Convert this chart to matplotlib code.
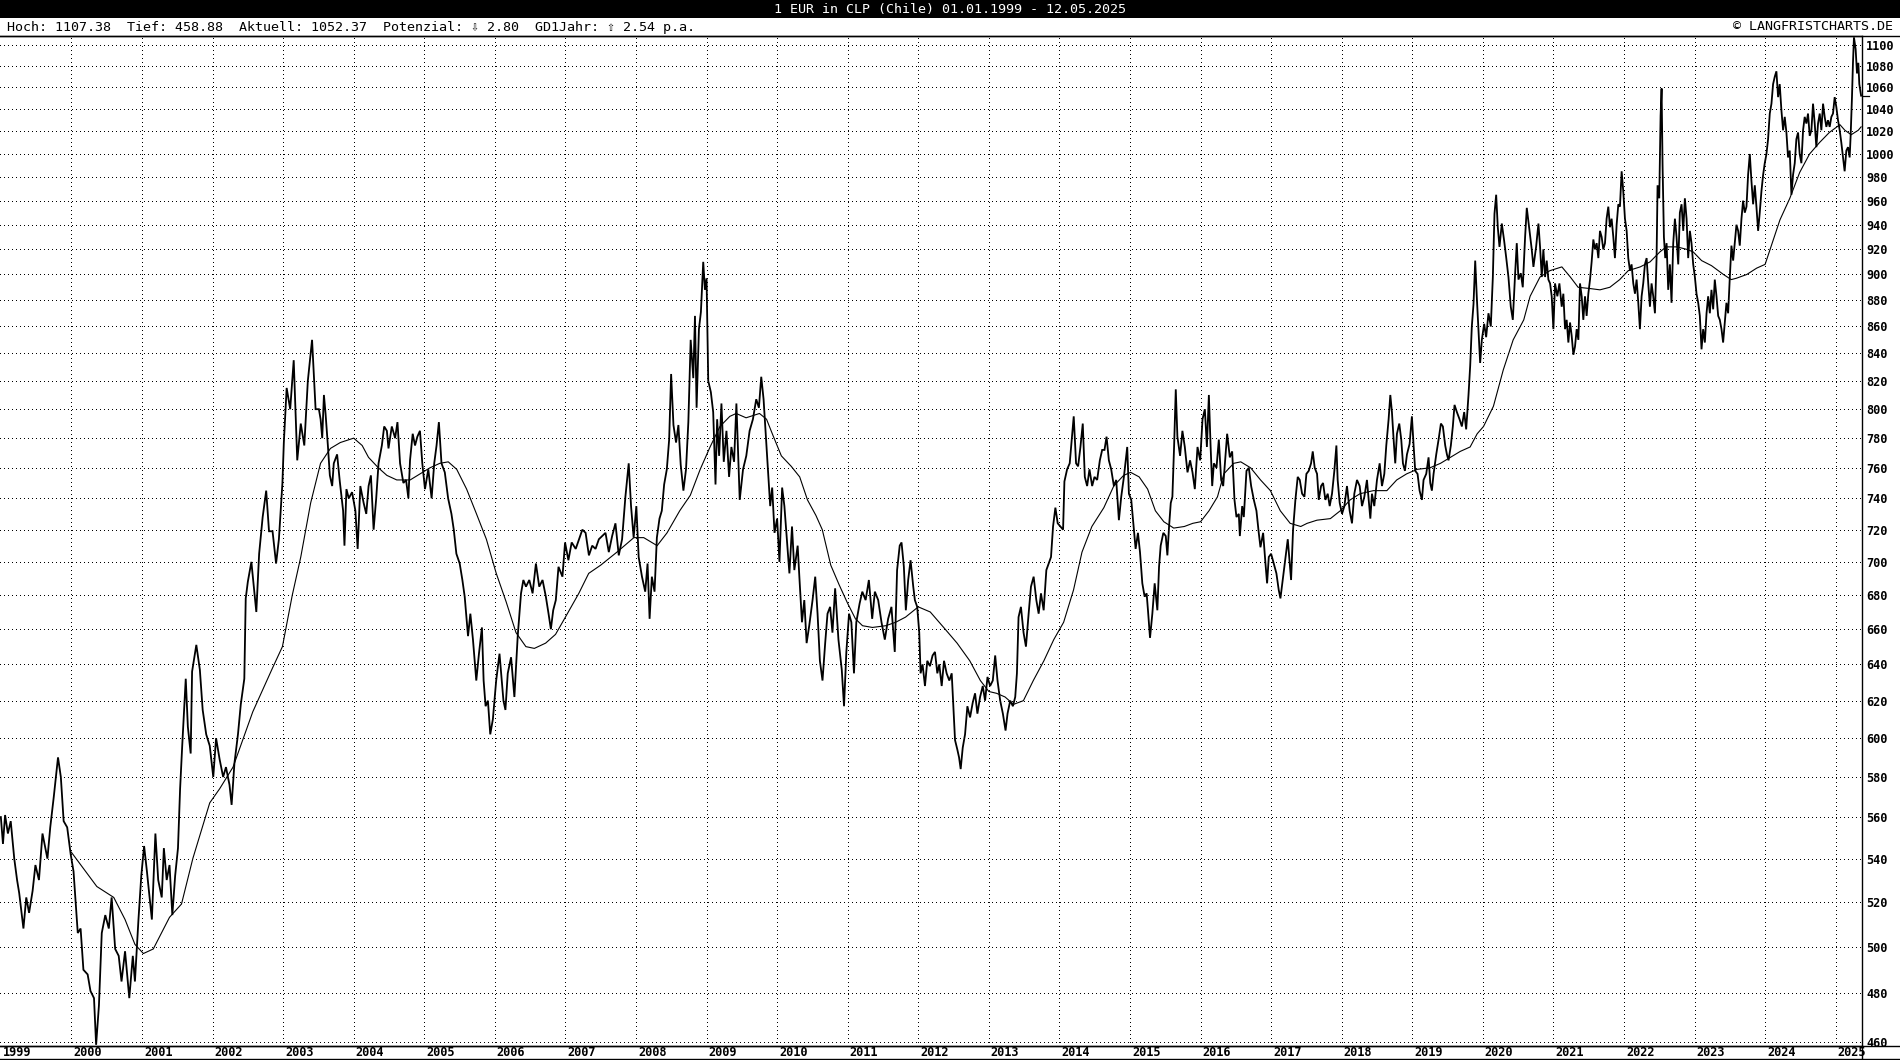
import numpy as np
import matplotlib
matplotlib.use("Agg")
import matplotlib.pyplot as plt
from matplotlib.ticker import FixedLocator, NullLocator
from matplotlib.patches import Rectangle
from matplotlib.lines import Line2D

# ---------- data ----------
# decimal year / EUR in CLP, roughly weekly
price_t = [
    1999.00, 1999.03, 1999.06, 1999.10, 1999.14, 1999.19, 1999.23, 1999.26, 1999.32, 1999.36,
    1999.40, 1999.45, 1999.49, 1999.54, 1999.59, 1999.63, 1999.66, 1999.70, 1999.75, 1999.81,
    1999.85, 1999.89, 1999.94, 1999.99, 2000.03, 2000.09, 2000.13, 2000.17, 2000.23, 2000.27,
    2000.32, 2000.35, 2000.39, 2000.43, 2000.48, 2000.53, 2000.57, 2000.62, 2000.67, 2000.71,
    2000.76, 2000.82, 2000.87, 2000.90, 2000.95, 2000.99, 2001.03, 2001.07, 2001.14, 2001.19,
    2001.23, 2001.28, 2001.31, 2001.35, 2001.39, 2001.43, 2001.47, 2001.51, 2001.54, 2001.57,
    2001.62, 2001.65, 2001.69, 2001.71, 2001.77, 2001.82, 2001.86, 2001.91, 2001.96, 2002.01,
    2002.05, 2002.10, 2002.15, 2002.19, 2002.24, 2002.27, 2002.31, 2002.36, 2002.40, 2002.45,
    2002.47, 2002.50, 2002.55, 2002.59, 2002.62, 2002.66, 2002.71, 2002.76, 2002.80, 2002.85,
    2002.90, 2002.94, 2002.99, 2003.01, 2003.05, 2003.10, 2003.15, 2003.20, 2003.25, 2003.30,
    2003.35, 2003.41, 2003.46,
    2003.507, 2003.531, 2003.554, 2003.578, 2003.601, 2003.634, 2003.662, 2003.695, 2003.718, 2003.765,
    2003.803, 2003.850, 2003.869, 2003.897, 2003.930, 2003.977, 2004.024, 2004.056, 2004.094, 2004.141,
    2004.178, 2004.211, 2004.244, 2004.282, 2004.319, 2004.352, 2004.399, 2004.432, 2004.470, 2004.493,
    2004.540, 2004.587, 2004.620, 2004.657, 2004.704, 2004.742, 2004.775, 2004.798, 2004.836, 2004.869,
    2004.902, 2004.939, 2004.972, 2005.010, 2005.057, 2005.104, 2005.141, 2005.174, 2005.207, 2005.244,
    2005.291, 2005.338, 2005.385, 2005.418, 2005.455, 2005.502, 2005.540, 2005.573, 2005.620, 2005.653,
    2005.690, 2005.737, 2005.775, 2005.817, 2005.841, 2005.869, 2005.902, 2005.935, 2005.972, 2006.019,
    2006.066, 2006.089, 2006.122, 2006.150, 2006.183, 2006.230, 2006.277, 2006.324, 2006.371, 2006.404,
    2006.441, 2006.488, 2006.535, 2006.582, 2006.629, 2006.676, 2006.723, 2006.761, 2006.794, 2006.827,
    2006.864, 2006.902, 2006.958, 2006.995, 2007.042, 2007.089, 2007.146, 2007.193, 2007.240, 2007.286,
    2007.333, 2007.380, 2007.427, 2007.474, 2007.521, 2007.568, 2007.615, 2007.662, 2007.709, 2007.756,
    2007.803, 2007.850, 2007.897,
    2007.930, 2007.967, 2008.005, 2008.038, 2008.085, 2008.131, 2008.164, 2008.193, 2008.225, 2008.263,
    2008.296, 2008.333, 2008.366, 2008.399, 2008.437, 2008.470, 2008.498, 2008.531, 2008.568, 2008.601,
    2008.634, 2008.672, 2008.709, 2008.742, 2008.775, 2008.812, 2008.836, 2008.859, 2008.892, 2008.920,
    2008.953, 2008.977, 2009.000, 2009.024, 2009.061, 2009.094, 2009.127, 2009.150, 2009.178, 2009.211,
    2009.244, 2009.282, 2009.319, 2009.352, 2009.390, 2009.423, 2009.470, 2009.517, 2009.563, 2009.610,
    2009.657, 2009.704, 2009.742, 2009.775, 2009.808, 2009.836, 2009.869, 2009.902, 2009.930, 2009.963,
    2010.000, 2010.033, 2010.071, 2010.103, 2010.136, 2010.174, 2010.211, 2010.244, 2010.291, 2010.315,
    2010.352, 2010.385, 2010.418, 2010.455, 2010.502, 2010.540, 2010.573, 2010.606, 2010.643, 2010.681,
    2010.714, 2010.751, 2010.784, 2010.822, 2010.869, 2010.916, 2010.948, 2010.981, 2011.019, 2011.052,
    2011.089, 2011.122, 2011.169, 2011.207, 2011.254, 2011.300, 2011.347, 2011.385, 2011.432, 2011.479,
    2011.526, 2011.573, 2011.620, 2011.667, 2011.700, 2011.737,
    2011.763, 2011.796, 2011.824, 2011.857, 2011.891, 2011.929, 2011.952, 2011.985, 2012.014, 2012.033,
    2012.061, 2012.095, 2012.128, 2012.166, 2012.203, 2012.237, 2012.270, 2012.298, 2012.332, 2012.365,
    2012.402, 2012.440, 2012.474, 2012.497, 2012.521, 2012.554, 2012.578, 2012.601, 2012.630, 2012.663,
    2012.696, 2012.734, 2012.772, 2012.805, 2012.838, 2012.876, 2012.914, 2012.947, 2012.981, 2013.018,
    2013.056, 2013.090, 2013.123, 2013.161, 2013.199, 2013.237, 2013.265, 2013.303, 2013.341, 2013.374,
    2013.398, 2013.421, 2013.455, 2013.492, 2013.526, 2013.564, 2013.597, 2013.635, 2013.673, 2013.706,
    2013.739, 2013.777, 2013.815, 2013.848, 2013.881, 2013.910, 2013.943, 2013.976, 2014.014, 2014.052,
    2014.071, 2014.109, 2014.146, 2014.175, 2014.203, 2014.236, 2014.265, 2014.298, 2014.331, 2014.360,
    2014.393, 2014.426, 2014.464, 2014.497, 2014.535, 2014.573, 2014.606, 2014.639, 2014.668, 2014.701,
    2014.734, 2014.772, 2014.805, 2014.843, 2014.876, 2014.914, 2014.947, 2014.961, 2014.985, 2015.018,
    2015.047, 2015.080, 2015.113, 2015.142, 2015.175, 2015.208, 2015.236, 2015.255, 2015.284, 2015.317,
    2015.350, 2015.388, 2015.412, 2015.435, 2015.473, 2015.507, 2015.530, 2015.554, 2015.578, 2015.601,
    2015.625, 2015.649, 2015.672, 2015.710, 2015.743, 2015.777, 2015.815, 2015.852, 2015.886, 2015.919,
    2015.957, 2015.995, 2016.028, 2016.061, 2016.090, 2016.118,
    2016.142, 2016.165, 2016.189, 2016.226, 2016.259, 2016.292, 2016.321, 2016.340, 2016.377, 2016.415,
    2016.448, 2016.481, 2016.509, 2016.542, 2016.557, 2016.590, 2016.613, 2016.651, 2016.684, 2016.717,
    2016.755, 2016.792, 2016.825, 2016.849, 2016.887, 2016.920, 2016.943, 2016.967, 2017.000, 2017.038,
    2017.075, 2017.108, 2017.132, 2017.170, 2017.203, 2017.236, 2017.264, 2017.283, 2017.311, 2017.344,
    2017.377, 2017.406, 2017.439, 2017.472, 2017.500, 2017.533, 2017.566, 2017.590, 2017.618, 2017.651,
    2017.675, 2017.708, 2017.736, 2017.769, 2017.802, 2017.830, 2017.863, 2017.896, 2017.925, 2017.943,
    2017.972, 2018.005, 2018.038, 2018.075, 2018.113, 2018.146, 2018.179, 2018.217, 2018.255, 2018.288,
    2018.321, 2018.358, 2018.382, 2018.406, 2018.429, 2018.462, 2018.500, 2018.538, 2018.571, 2018.604,
    2018.632, 2018.665, 2018.689, 2018.712, 2018.736, 2018.759, 2018.783, 2018.816, 2018.844, 2018.868,
    2018.896, 2018.925, 2018.962, 2018.995, 2019.019, 2019.042, 2019.075, 2019.104, 2019.137, 2019.160,
    2019.198, 2019.231, 2019.255, 2019.278, 2019.302, 2019.340, 2019.373, 2019.406, 2019.434, 2019.467,
    2019.491, 2019.514, 2019.547, 2019.575, 2019.599, 2019.632, 2019.670, 2019.703, 2019.736, 2019.764,
    2019.797, 2019.821, 2019.844, 2019.868, 2019.892, 2019.915, 2019.939, 2019.962, 2019.986, 2020.019,
    2020.047, 2020.080, 2020.113, 2020.142, 2020.165, 2020.189, 2020.212, 2020.236, 2020.269, 2020.302,
    2020.330, 2020.363, 2020.396, 2020.425, 2020.458, 2020.481, 2020.505, 2020.538, 2020.566, 2020.599,
    2020.623, 2020.660, 2020.693, 2020.717, 2020.755, 2020.788, 2020.811,
    2020.835, 2020.858, 2020.882, 2020.905, 2020.929, 2020.953, 2020.976, 2021.000, 2021.023, 2021.056,
    2021.085, 2021.118, 2021.141, 2021.165, 2021.188, 2021.212, 2021.236, 2021.259, 2021.283, 2021.306,
    2021.330, 2021.354, 2021.377, 2021.401, 2021.424, 2021.448, 2021.471, 2021.495, 2021.519, 2021.542,
    2021.566, 2021.589, 2021.613, 2021.637, 2021.660, 2021.684, 2021.707, 2021.731, 2021.754, 2021.778,
    2021.802, 2021.825, 2021.849, 2021.872, 2021.896, 2021.920, 2021.943, 2021.967, 2021.990, 2022.014,
    2022.038, 2022.061, 2022.085, 2022.108, 2022.132, 2022.156, 2022.179, 2022.203, 2022.226, 2022.250,
    2022.273, 2022.297, 2022.321, 2022.344, 2022.368, 2022.391, 2022.415, 2022.439, 2022.462, 2022.476,
    2022.500, 2022.519, 2022.533, 2022.547, 2022.566, 2022.585, 2022.604, 2022.627, 2022.651, 2022.674,
    2022.698, 2022.722, 2022.745, 2022.769, 2022.792, 2022.816, 2022.840, 2022.863, 2022.887, 2022.910,
    2022.934, 2022.957, 2022.981, 2023.005, 2023.028, 2023.052, 2023.075, 2023.099, 2023.122, 2023.146,
    2023.170, 2023.193, 2023.217, 2023.240, 2023.264, 2023.287, 2023.311, 2023.335, 2023.358, 2023.382,
    2023.405, 2023.429, 2023.452, 2023.476, 2023.500, 2023.523, 2023.547, 2023.570, 2023.594, 2023.618,
    2023.641, 2023.665, 2023.688, 2023.712, 2023.736, 2023.759, 2023.783, 2023.806, 2023.830, 2023.854,
    2023.877, 2023.901, 2023.924, 2023.948, 2023.972, 2023.995, 2024.019, 2024.042, 2024.066, 2024.090,
    2024.113, 2024.137, 2024.160, 2024.184, 2024.207, 2024.231, 2024.255, 2024.278, 2024.302, 2024.325,
    2024.349, 2024.373, 2024.396, 2024.420, 2024.443, 2024.467, 2024.490, 2024.514, 2024.538, 2024.561,
    2024.585, 2024.608, 2024.632, 2024.656, 2024.679, 2024.703, 2024.726, 2024.750, 2024.774, 2024.797,
    2024.821, 2024.844, 2024.868, 2024.891, 2024.915, 2024.939, 2024.962, 2024.986, 2025.009, 2025.033,
    2025.057, 2025.080, 2025.104, 2025.127, 2025.151, 2025.175, 2025.198, 2025.212, 2025.231, 2025.245,
    2025.259, 2025.283, 2025.302, 2025.321, 2025.335, 2025.360,
]
price_v = [
    560, 547, 561, 552, 558, 540, 530, 524, 508, 522,
    515, 525, 537, 530, 552, 545, 540, 555, 570, 590,
    580, 558, 555, 542, 534, 506, 508, 490, 488, 481,
    478, 458.88, 475, 506, 514, 508, 522, 499, 496, 485,
    498, 478, 496, 485, 512, 532, 546, 534, 512, 552,
    530, 522, 545, 530, 537, 514, 532, 545, 574, 596,
    632, 606, 592, 636, 651, 637, 615, 602, 596, 580,
    600, 589, 580, 585, 576, 566, 587, 602, 618, 632,
    678, 688, 700, 683, 670, 705, 728, 745, 719, 719,
    699, 714, 750, 777, 815, 800, 835, 765, 790, 775,
    820, 850, 800,
    800, 793, 780, 810, 797, 775, 755, 748, 763, 769,
    751, 732, 710, 746, 740, 744, 732, 708, 748, 737,
    730, 748, 755, 720, 740, 763, 775, 788, 785, 773,
    788, 780, 791, 763, 750, 752, 740, 765, 783, 775,
    781, 785, 763, 746, 759, 740, 763, 775, 791, 763,
    757, 740, 730, 720, 705, 699, 689, 679, 656, 669,
    654, 631, 646, 661, 631, 617, 620, 602, 610, 631,
    646, 635, 620, 615, 635, 644, 622, 656, 681, 689,
    685, 689, 681, 699, 685, 689, 679, 669, 660, 671,
    677, 697, 691, 712, 701, 712, 708, 714, 720, 718,
    704, 710, 708, 714, 716, 718, 706, 716, 724, 704,
    714, 741, 763,
    735, 715, 735, 703, 691, 682, 699, 666, 691, 682,
    715, 727, 732, 749, 759, 779, 825, 789, 777, 789,
    762, 745, 759, 791, 850, 822, 868, 801, 858, 871,
    910, 888, 897, 820, 812, 798, 749, 793, 768, 804,
    764, 785, 754, 774, 764, 804, 739, 759, 768, 785,
    793, 807, 801, 823, 807, 785, 759, 735, 747, 718,
    727, 700, 747, 735, 715, 693, 722, 695, 710, 691,
    664, 677, 652, 662, 677, 691, 669, 642, 631, 652,
    669, 673, 658, 684, 654, 637, 617, 647, 669, 664,
    635, 664, 675, 682, 677, 689, 666, 682, 677, 664,
    654, 666, 673, 647, 695, 710,
    712, 697, 671, 689, 701, 685, 677, 673, 658, 635,
    640, 628, 642, 639, 645, 647, 635, 640, 628, 642,
    635, 631, 635, 617, 599, 594, 590, 584, 595, 602,
    617, 611, 619, 624, 613, 622, 628, 620, 633, 628,
    631, 645, 631, 620, 613, 604, 613, 620, 617, 622,
    635, 667, 673, 658, 650, 669, 685, 691, 677, 669,
    681, 671, 695, 699, 703, 722, 734, 724, 722, 720,
    751, 759, 763, 779, 795, 763, 761, 774, 790, 754,
    748, 759, 748, 754, 752, 765, 772, 772, 781, 765,
    759, 748, 752, 726, 741, 754, 768, 774, 743, 739,
    724, 708, 718, 706, 687, 679, 681, 671, 655, 669,
    687, 671, 697, 710, 718, 716, 704, 722, 737, 741,
    774, 814, 781, 768, 785, 774, 757, 765, 757, 746,
    774, 765, 793, 800, 774, 810,
    775, 748, 763, 760, 779, 752, 748, 760, 783, 767,
    771, 739, 728, 730, 716, 735, 728, 758, 760, 748,
    739, 732, 718, 709, 718, 699, 687, 703, 705, 699,
    693, 683, 678, 691, 703, 714, 699, 689, 720, 739,
    754, 752, 743, 741, 756, 758, 763, 771, 760, 756,
    739, 748, 750, 739, 743, 735, 743, 758, 775, 752,
    737, 730, 735, 748, 732, 724, 743, 752, 748, 735,
    741, 752, 739, 727, 743, 735, 752, 763, 748, 756,
    775, 793, 810, 798, 779, 763, 783, 790, 779, 763,
    758, 769, 776, 795, 775, 758, 756, 745, 739, 752,
    756, 767, 750, 745, 756, 769, 779, 790, 788, 775,
    769, 765, 775, 788, 803, 798, 793, 788, 798, 786,
    810, 831, 860, 877, 911, 882, 857, 833, 850, 862,
    852, 870, 860, 898, 949, 965, 938, 922, 941, 927,
    914, 898, 875, 865, 901, 925, 896, 901, 890, 930,
    954, 936, 920, 906, 922, 941, 922,
    898, 920, 898, 911, 896, 893, 883, 858, 893, 883,
    893, 875, 885, 858, 865, 848, 863, 853, 839, 845,
    858, 850, 893, 883, 865, 883, 868, 885, 896, 910,
    928, 920, 925, 913, 935, 930, 920, 925, 945, 955,
    938, 945, 930, 913, 940, 957, 955, 985, 968, 945,
    935, 913, 903, 908, 893, 885, 896, 878, 858, 883,
    893, 908, 913, 893, 875, 893, 883, 870, 913, 973,
    962, 1034, 1059, 990, 930, 913, 925, 888, 908, 878,
    925, 945, 930, 908, 950, 957, 935, 962, 945, 913,
    935, 925, 908, 898, 885, 878, 868, 843, 858, 848,
    870, 883, 870, 888, 873, 896, 883, 868, 865, 858,
    848, 863, 878, 870, 898, 923, 911, 925, 940, 935,
    923, 945, 960, 950, 955, 982, 1000, 977, 957, 973,
    955, 935, 950, 968, 982, 992, 1000, 1013, 1036, 1045,
    1063, 1070, 1075, 1051, 1063, 1039, 1021, 1033, 1019, 997,
    1003, 965, 982, 992, 1013, 1019, 1000, 992, 1021, 1033,
    1027, 1036, 1016, 1021, 1045, 1027, 1006, 1027, 1036, 1021,
    1045, 1033, 1024, 1030, 1024, 1033, 1036, 1051, 1042, 1030,
    1021, 1010, 997, 985, 1003, 1006, 997, 1016, 1051, 1083,
    1107.38, 1096, 1073, 1083, 1063, 1052.37,
]

# GD 1 Jahr (moving average line as drawn)
gd_t = [
    2000.00, 2000.36, 2000.60, 2000.76, 2000.90, 2001.02, 2001.16, 2001.39, 2001.56, 2001.72,
    2001.96, 2002.10, 2002.29, 2002.57, 2002.85, 2002.99, 2003.13, 2003.25, 2003.39, 2003.53,
    2003.67, 2003.81, 2004.00, 2004.12, 2004.21, 2004.35, 2004.47, 2004.61, 2004.80, 2004.94,
    2005.08, 2005.22, 2005.34, 2005.46, 2005.60, 2005.74, 2005.88, 2006.02, 2006.16, 2006.30,
    2006.44, 2006.56, 2006.72, 2006.86, 2007.00, 2007.19, 2007.33, 2007.50, 2007.73, 2007.97,
    2008.11, 2008.30, 2008.44, 2008.62, 2008.77, 2008.91, 2009.05, 2009.19, 2009.33, 2009.42,
    2009.56, 2009.75, 2009.85, 2009.94, 2010.06, 2010.20, 2010.32, 2010.43, 2010.55, 2010.64,
    2010.76, 2010.88, 2011.00, 2011.11, 2011.21, 2011.35, 2011.54, 2011.68, 2011.82, 2012.00,
    2012.17, 2012.36, 2012.55, 2012.73, 2012.88, 2013.00, 2013.11, 2013.23, 2013.35, 2013.49,
    2013.63, 2013.78, 2013.92, 2014.06, 2014.20, 2014.32, 2014.46, 2014.63, 2014.77, 2014.91,
    2015.01, 2015.13, 2015.25, 2015.36, 2015.48, 2015.62, 2015.77, 2015.89, 2016.00, 2016.12,
    2016.24, 2016.33, 2016.47, 2016.57, 2016.71, 2016.85, 2016.99, 2017.13, 2017.27, 2017.42,
    2017.51, 2017.65, 2017.84, 2017.98, 2018.12, 2018.26, 2018.45, 2018.64, 2018.78, 2018.92,
    2019.07, 2019.25, 2019.40, 2019.54, 2019.68, 2019.82, 2019.92, 2020.01, 2020.15, 2020.29,
    2020.43, 2020.58, 2020.67, 2020.81, 2020.95, 2021.12, 2021.24, 2021.35, 2021.52, 2021.66,
    2021.80, 2021.94, 2022.06, 2022.23, 2022.37, 2022.51, 2022.60, 2022.75, 2022.89, 2022.98,
    2023.10, 2023.24, 2023.41, 2023.52, 2023.59, 2023.74, 2023.88, 2024.00, 2024.10, 2024.21,
    2024.35, 2024.49, 2024.63, 2024.77, 2024.91, 2025.06, 2025.13, 2025.22, 2025.32, 2025.36,
]
gd_v = [
    543, 527, 522, 512, 501, 497, 499, 513, 519, 540,
    567, 574, 585, 614, 638, 650, 680, 703, 737, 763,
    773, 777, 780, 775, 767, 760, 755, 752, 752, 756,
    760, 763, 764, 759, 746, 730, 714, 693, 676, 658,
    650, 649, 652, 657, 667, 681, 693, 698, 706, 715,
    715, 710, 718, 732, 742, 759, 774, 788, 795, 797,
    794, 797, 793, 782, 768, 761, 754, 739, 729, 720,
    698, 686, 675, 666, 662, 661, 662, 664, 667, 673,
    670, 661, 652, 642, 631, 625, 624, 622, 618, 620,
    631, 642, 654, 664, 683, 706, 722, 734, 748, 755,
    757, 754, 746, 732, 725, 721, 722, 724, 725, 732,
    741, 756, 763, 764, 760, 752, 745, 732, 724, 722,
    724, 726, 727, 732, 739, 743, 745, 745, 752, 756,
    759, 760, 763, 767, 771, 774, 783, 788, 802, 828,
    850, 865, 883, 898, 903, 906, 898, 890, 889, 888,
    890, 896, 903, 906, 910, 918, 922, 922, 920, 918,
    911, 907, 900, 896, 897, 900, 905, 908, 925, 944,
    962, 984, 1000, 1010, 1019, 1026, 1021, 1017, 1021, 1024,
]

years = list(range(1999, 2026))
y_ticks = list(range(460, 1101, 20))
title = "1 EUR in CLP (Chile) 01.01.1999 - 12.05.2025"
info = "Hoch: 1107.38  Tief: 458.88  Aktuell: 1052.37  Potenzial: \u21e9 2.80  GD1Jahr: \u21e7 2.54 p.a."
credit = "\u00a9 LANGFRISTCHARTS.DE"
last_value = 1052.37

assert len(price_t) == len(price_v)
assert len(gd_t) == len(gd_v)

# ---------- layout (pixels) ----------
W, H = 1900, 1060
TOP, BOTTOM, RIGHT = 36, 1046, 1862
mono = ['DejaVu Sans Mono', 'DejaVu Sans']

fig = plt.figure(figsize=(W / 100, H / 100), dpi=100)
ax = fig.add_axes([0, (H - BOTTOM) / H, RIGHT / W, (BOTTOM - TOP) / H])

# ---------- plot ----------
ax.plot(price_t, price_v, color='black', lw=1.3, solid_joinstyle='miter', zorder=3)
ax.plot(gd_t, gd_v, color='black', lw=0.8, zorder=3)

ax.set_yscale('log')
ax.set_ylim(458.4, 1108.7)
ax.set_xlim(1998.988, 2025.373)

ax.yaxis.set_major_locator(FixedLocator(y_ticks))
ax.yaxis.set_minor_locator(NullLocator())
ax.set_yticklabels([str(v) for v in y_ticks])
ax.xaxis.set_major_locator(FixedLocator(years[1:]))
ax.xaxis.set_minor_locator(NullLocator())
ax.set_xticklabels([])

ax.tick_params(axis='y', left=False, right=False, labelleft=False, labelright=True,
               length=0, pad=3)
ax.tick_params(axis='x', bottom=False, top=False, length=0)
for lab in ax.get_yticklabels():
    lab.set_fontfamily(mono)
    lab.set_fontweight('bold')
    lab.set_fontsize(8.6)

ax.grid(True, color='black', linestyle=(0, (1, 3.2)), linewidth=0.7, antialiased=False)
ax.set_axisbelow(True)

ax.spines['left'].set_visible(False)
for s in ('top', 'right', 'bottom'):
    ax.spines[s].set_linewidth(1.0)
    ax.spines[s].set_color('black')

# year labels right of each gridline
for yr in years:
    ax.annotate(str(yr), xy=(yr, 0), xycoords=('data', 'axes fraction'),
                xytext=(2, -7), textcoords='offset pixels',
                ha='left', va='center', fontsize=8.6, fontweight='bold',
                fontfamily=mono, annotation_clip=False)

# marker for the current value on the price axis
ax.plot([1.0, 1.004], [last_value, last_value], color='black', lw=0.9,
        transform=ax.get_yaxis_transform(), clip_on=False)

# ---------- header / frame ----------
fig.patches.append(Rectangle((0, 1 - 18 / H), 1, 18 / H, transform=fig.transFigure,
                             facecolor='black', edgecolor='none'))
fig.text(0.5, 1 - 9 / H, title, color='white', ha='center', va='center',
         fontsize=9.6, fontfamily=mono)
fig.text(7 / W, 1 - 27 / H, info, color='black', ha='left', va='center',
         fontsize=9.6, fontfamily=mono)
fig.text(1893 / W, 1 - 27 / H, credit, color='black', ha='right', va='center',
         fontsize=9.6, fontfamily=mono)

for y_px in (TOP, BOTTOM, H - 1):
    fig.add_artist(Line2D([0, 1], [1 - y_px / H] * 2, transform=fig.transFigure,
                          color='black', lw=1.0))
fig.add_artist(Line2D([RIGHT / W] * 2, [1 - (H - 1) / H, 1 - BOTTOM / H],
                      transform=fig.transFigure, color='black', lw=1.0))

# ---------- save ----------
fig.savefig("out.png", dpi=100, facecolor='white')
